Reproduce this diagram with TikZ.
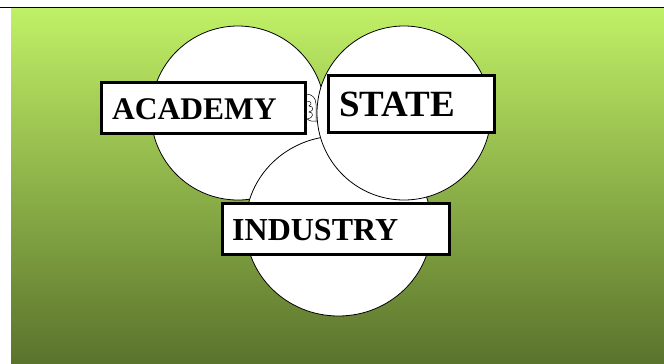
\documentclass[tikz,border=0pt]{standalone}
\usepackage{fontspec}
\setmainfont{Liberation Serif}
\usetikzlibrary{positioning}
\usetikzlibrary{shapes.geometric}
\definecolor{bgtop}{RGB}{192,240,102}
\definecolor{bgbot}{RGB}{90,115,44}
\tikzstyle{blob} = [ellipse, draw=black, fill=white, line width=0.8pt, inner sep=0pt]
\tikzstyle{lab} = [rectangle, draw=black, fill=white, line width=2.6pt, inner sep=0pt]
\tikzstyle{word} = [inner sep=0pt, anchor=base west, font=\bfseries\fontsize{31.5}{33}\selectfont]
\begin{document}
\begin{tikzpicture}[x=1pt,y=-1pt]
	\useasboundingbox (0,0) rectangle (664,364);
	\shade [top color=bgtop, bottom color=bgbot] (11,8) rectangle (664,364);
	\coordinate (ruleL) at (0,7.5);
	\coordinate (ruleR) at (664,7.5);
	\draw [line width=0.9pt] (ruleL) -- (ruleR);
	% circles
	\node [blob, minimum width=174pt, minimum height=174pt] (academy) at (238,113) {};
	\draw [line width=0.5pt] (306,94) .. controls (312,94) and (316,98) .. (316,104)
		.. controls (316,110) and (316,116) .. (316,122);
	\draw [line width=0.5pt] (306,102) .. controls (311,100) and (313,104) .. (309,106)
		.. controls (314,106) and (314,111) .. (309,112)
		.. controls (314,112) and (314,118) .. (307,119)
		.. controls (310,121) and (313,122) .. (316,121);
	\node [blob, minimum width=186pt, minimum height=180pt] (industry) at (338.5,226) {};
	\node [blob, minimum width=174pt, minimum height=174pt] (state) at (404,113) {};
	% labels
	\node [lab, minimum width=204pt, minimum height=51pt] (academybox) at (203.5,108) {};
	\node [lab, minimum width=166pt, minimum height=57pt] (statebox) at (411.5,104) {};
	\node [lab, minimum width=227pt, minimum height=51pt] (industrybox) at (336,229) {};
	\node [word] (academytext) at (112,119) {ACADEMY};
	\node [word, font=\bfseries\fontsize{37}{37}\selectfont] (statetext) at (339,116) {STATE};
	\node [word, font=\bfseries\fontsize{32}{33}\selectfont] (industrytext) at (232,240) {INDUSTRY};
\end{tikzpicture}
\end{document}
